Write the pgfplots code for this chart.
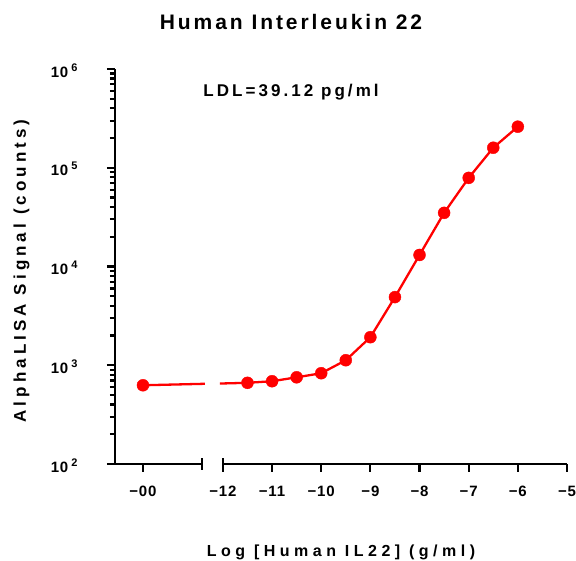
\documentclass[border=0pt]{standalone}
\usepackage{pgfplots}
\pgfplotsset{compat=1.18}
\usepackage{fontspec}
\setmainfont{Liberation Sans}
\newfontfamily\lsb{Liberation Sans Bold}[LetterSpace=14]
\newfontfamily\lst{Liberation Sans Bold}[LetterSpace=6]
\newfontfamily\lsx{Liberation Sans Bold}[LetterSpace=28]
\newfontfamily\lsy{Liberation Sans Bold}[LetterSpace=24]
\newfontfamily\lsl{Liberation Sans Bold}[LetterSpace=18]
\newcommand{\ex}[1]{\hspace{3pt}\raisebox{6pt}{\fontsize{11}{12}\selectfont #1}}
\begin{document}
\begin{tikzpicture}
\useasboundingbox (-115pt,-96pt) rectangle (461pt,464pt);
\begin{axis}[
  at={(0,0)}, anchor=south west,
  scale only axis, width=452pt, height=395pt,
  xmin=-14.195, xmax=-5,
  ymode=log, ymin=100, ymax=1e6,
  axis lines=left,
  axis line style={-},
  x axis line style={draw=none},
  y axis line style={line width=2.7pt},
  clip=false,
  tick align=outside,
  major tick length=8pt, minor tick length=5pt,
  every tick/.style={line width=2.2pt, black},
  xtick={-13.626,-12,-11,-10,-9,-8,-7,-6,-5},
  xticklabels={−00,−12,−11,−10,−9,−8,−7,−6,−5},
  xticklabel style={font=\lst\fontsize{15}{17}\selectfont, yshift=-11pt},
  ytick={100,1000,10000,100000,1000000},
  yticklabels={10\ex{2},10\ex{3},10\ex{4},10\ex{5},10\ex{6}},
  yticklabel style={font=\lst\fontsize{15}{17}\selectfont, xshift=-26pt, yshift=-1.5pt},
  minor ytick={200,300,400,500,600,700,800,900,
               2000,3000,4000,5000,6000,7000,8000,9000,
               20000,30000,40000,50000,60000,70000,80000,90000,
               200000,300000,400000,500000,600000,700000,800000,900000},
]
% broken x axis
\draw[line width=2.7pt] (axis cs:-14.195,100) -- (axis cs:-12.427,100);
\draw[line width=2.7pt] (axis cs:-12,100) -- (axis cs:-5,100);
\draw[line width=2.2pt] ([yshift=-6pt]axis cs:-12.427,100) -- ([yshift=6pt]axis cs:-12.427,100);
\draw[line width=2.2pt] ([yshift=-6pt]axis cs:-12,100) -- ([yshift=6pt]axis cs:-12,100);
% data
\addplot[red, line width=2.3pt] coordinates {(-13.626,627) (-12.366,649)};
\addplot[red, line width=2.3pt] coordinates {
  (-12.061,653) (-11.5,664) (-11,689) (-10.5,755) (-10,830) (-9.5,1124)
  (-9,1924) (-8.5,4898) (-8,13090) (-7.5,34930) (-7,79000) (-6.5,159500) (-6,260600)};
\addplot[only marks, mark=*, mark size=6pt, red, mark options={draw=red, fill=red}] coordinates {
  (-13.626,627) (-11.5,664) (-11,689) (-10.5,755) (-10,830) (-9.5,1124)
  (-9,1924) (-8.5,4898) (-8,13090) (-7.5,34930) (-7,79000) (-6.5,159500) (-6,260600)};
\end{axis}
\node[font=\lsb\fontsize{21}{24}\selectfont, anchor=base] at (176pt,434pt) {Human Interleukin 22};
\node[font=\lsl\fontsize{17}{20}\selectfont, anchor=base] at (176pt,367pt) {LDL=39.12 pg/ml};
\node[font=\lsx\fontsize{16}{19}\selectfont, anchor=base] at (226pt,-92pt) {Log [Human IL22] (g/ml)};
\node[font=\lsy\fontsize{17}{20}\selectfont, anchor=base, rotate=90] at (-89pt,193pt) {AlphaLISA Signal (counts)};
\end{tikzpicture}
\end{document}
